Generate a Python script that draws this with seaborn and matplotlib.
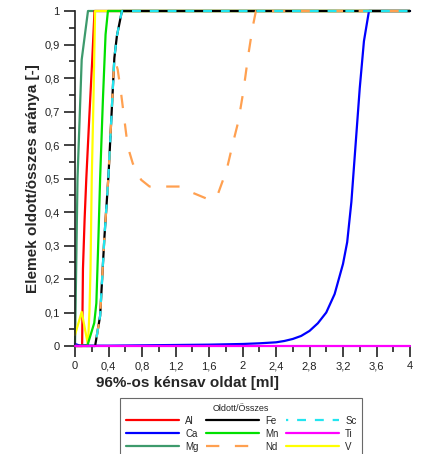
import matplotlib
matplotlib.use("Agg")
import matplotlib.pyplot as plt
import seaborn as sns
from matplotlib.ticker import MultipleLocator, FuncFormatter

# ---- data ----
al_x = [0, 0.085, 0.095, 0.115, 0.135, 0.17, 0.205, 0.233, 4]
al_y = [0, 0, 0.23, 0.38, 0.5, 0.68, 0.85, 1, 1]
ca_x = [0, 0.06, 0.4, 0.8, 1.2, 1.6, 2.0, 2.2, 2.4, 2.5, 2.6, 2.7, 2.8, 2.9, 3.0, 3.1, 3.2, 3.25, 3.3, 3.35, 3.4, 3.45, 3.51, 4]
ca_y = [0.006, 0.001, 0.001, 0.002, 0.003, 0.004, 0.006, 0.008, 0.011, 0.015, 0.021, 0.03, 0.045, 0.068, 0.1, 0.155, 0.245, 0.31, 0.43, 0.6, 0.77, 0.91, 1.0, 1.0]
mg_x = [0, 0.03, 0.08, 0.155, 4]
mg_y = [0, 0.5, 0.855, 1, 1]
fe_x = [0, 0.24, 0.3, 0.35, 0.4, 0.44, 0.47, 0.5, 0.56, 4]
fe_y = [0, 0, 0.09, 0.32, 0.51, 0.71, 0.86, 0.925, 1, 1]
mn_x = [0, 0.15, 0.23, 0.255, 0.28, 0.3, 0.333, 0.365, 0.393, 4]
mn_y = [0, 0.003, 0.069, 0.128, 0.326, 0.5, 0.734, 0.93, 1, 1]
nd_x = [0, 0.24, 0.3, 0.35, 0.4, 0.44, 0.47, 0.51, 0.55, 0.59, 0.63, 0.69, 0.79, 0.89, 1.09, 1.27, 1.37, 1.61, 1.71, 1.81, 1.89, 1.95, 2.01, 2.07, 2.12, 2.16, 4]
nd_y = [0, 0, 0.09, 0.32, 0.51, 0.71, 0.86, 0.825, 0.755, 0.675, 0.595, 0.545, 0.496, 0.476, 0.476, 0.476, 0.461, 0.436, 0.456, 0.525, 0.61, 0.67, 0.76, 0.87, 0.95, 1, 1]
sc_x = [0, 0.24, 0.3, 0.35, 0.4, 0.44, 0.47, 0.5, 0.56, 4]
sc_y = [0, 0, 0.09, 0.32, 0.51, 0.71, 0.86, 0.925, 1, 1]
ti_x = [0, 4]
ti_y = [0, 0]
v_x = [0, 0.08, 0.155, 0.173, 0.185, 0.2, 0.22, 0.24, 4]
v_y = [0.033, 0.102, 0.003, 0.107, 0.227, 0.5, 0.73, 1, 1]

x_ticks = [0, 0.4, 0.8, 1.2, 1.6, 2, 2.4, 2.8, 3.2, 3.6, 4]
y_ticks = [0, 0.1, 0.2, 0.3, 0.4, 0.5, 0.6, 0.7, 0.8, 0.9, 1]

sns.set_theme(style="ticks")
plt.rcParams['font.family'] = ['Liberation Sans', 'DejaVu Sans']

fig = plt.figure(figsize=(4.21, 4.54), dpi=100)
ax = fig.add_axes([75/421, 1-346/454, 335/421, 335/454])

lw = 1.6
series = [
    ("Mg", mg_x, mg_y, "#3d9a6c", "-", None, 2.0),
    ("Al", al_x, al_y, "#ff0000", "-", None, 2.1),
    ("V", v_x, v_y, "#ffff00", "-", None, 2.2),
    ("Mn", mn_x, mn_y, "#00e000", "-", None, 2.3),
    ("Ca", ca_x, ca_y, "#0000ff", "-", None, 2.4),
    ("Fe", fe_x, fe_y, "#000000", "-", None, 2.5),
    ("Nd", nd_x, nd_y, "#ffa050", "--", (0, (6, 7)), 2.6),
    ("Sc", sc_x, sc_y, "#22e5f0", "--", (3, (4, 4)), 2.7),
    ("Ti", ti_x, ti_y, "#ff00ff", "-", None, 2.8),
]
handles = {}
for name, xs, ys, col, ls, dash, z in series:
    sns.lineplot(x=xs, y=ys, ax=ax, color=col, linewidth=lw, sort=False,
                 estimator=None, zorder=z, clip_on=False)
    ln = ax.lines[-1]
    if dash is not None:
        ln.set_linestyle(dash)
    handles[name] = ln

ax.set_xlim(0, 4)
ax.set_ylim(0, 1)
ax.set_xticks(x_ticks)
ax.set_yticks(y_ticks)
ax.xaxis.set_minor_locator(MultipleLocator(0.2))
ax.yaxis.set_minor_locator(MultipleLocator(0.05))

def fmt(v, pos):
    s = ("%.1f" % v)
    if s.endswith(".0"):
        s = s[:-2]
    return s.replace(".", ",")

ax.xaxis.set_major_formatter(FuncFormatter(fmt))
ax.yaxis.set_major_formatter(FuncFormatter(fmt))
for s in ["top", "right"]:
    ax.spines[s].set_visible(False)
for s in ["left", "bottom"]:
    ax.spines[s].set_linewidth(1.2)
    ax.spines[s].set_color("#222222")
ax.tick_params(axis="both", which="major", length=8, width=1.2, labelsize=8,
               color="#222222", labelcolor="#222222", pad=3)
ax.tick_params(axis="both", which="minor", length=4.5, width=1.2, color="#222222")
ax.grid(False)

ax.set_xlabel("96%-os kénsav oldat [ml]", fontsize=11, fontweight="bold")
ax.set_ylabel("Elemek oldott/összes aránya [-]", fontsize=11, fontweight="bold")
ax.xaxis.set_label_coords((187-75)/335, (346-376)/335)
ax.yaxis.set_label_coords((40-75)/335, 0.5)

order = ["Al", "Ca", "Mg", "Fe", "Mn", "Nd", "Sc", "Ti", "V"]
leg = fig.legend([handles[n] for n in order], order, ncol=3,
                 loc="upper left", bbox_to_anchor=(120/421, 1-398/454),
                 title="Oldott/Összes", fontsize=7, title_fontsize=6.5,
                 frameon=True, fancybox=False, handlelength=5.5,
                 handletextpad=0.6, columnspacing=0.75, labelspacing=0.3,
                 borderpad=0.6, borderaxespad=0)
leg.get_frame().set_edgecolor("#444444")
leg.get_frame().set_linewidth(0.8)

fig.savefig("out.png", dpi=100)
